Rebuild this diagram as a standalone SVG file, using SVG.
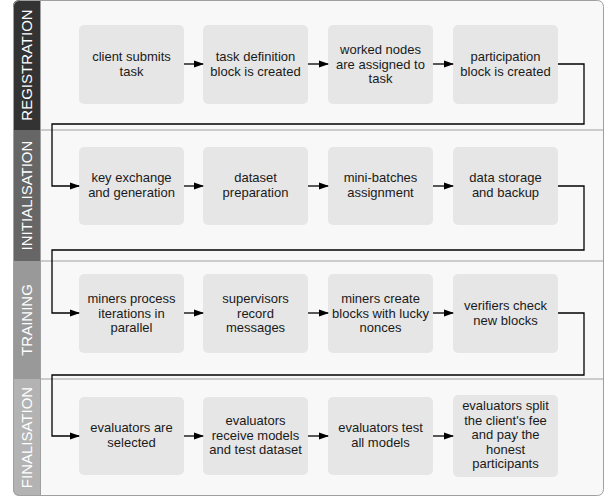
<svg xmlns="http://www.w3.org/2000/svg" width="614" height="500" viewBox="0 0 614 500">
<style>
.lane{fill:#f8f8f8;stroke:none}
.div{stroke:#a0a0a0;stroke-width:1;fill:none}
.hd{fill:#fff;font-family:"Liberation Sans",Arial,sans-serif;font-size:15px;text-anchor:middle}
.node rect{fill:#e6e6e6;stroke:none}
.node text{fill:#1a1a1a;font-family:"Liberation Sans",Arial,sans-serif;font-size:13px;text-anchor:middle}
.conn{stroke:#000;stroke-width:1.3;fill:none}
</style>
<defs>
<marker id="ah" markerWidth="10" markerHeight="8" refX="9" refY="4" orient="auto" markerUnits="userSpaceOnUse">
<path d="M0,0.5 L10,4 L0,7.5 Z" fill="#000"/>
</marker>
<clipPath id="frame"><rect x="13" y="0" width="591" height="496" rx="6"/></clipPath>
</defs>
<g id="lanes" clip-path="url(#frame)">
<rect class="lane" x="13" y="0" width="591" height="496"/>
<rect x="13" y="0" width="27" height="130" fill="#333333"/>
<rect x="13" y="130" width="27" height="131" fill="#666666"/>
<rect x="13" y="261" width="27" height="118" fill="#999999"/>
<rect x="13" y="379" width="27" height="117" fill="#b3b3b3"/>
<line class="div" x1="40" y1="130" x2="604" y2="130"/>
<line class="div" x1="40" y1="261" x2="604" y2="261"/>
<line class="div" x1="40" y1="379" x2="604" y2="379"/>
<line x1="40.5" y1="0" x2="40.5" y2="496" stroke="#a0a0a0" stroke-width="1"/>
</g>
<rect x="13.5" y="0.5" width="590" height="495" rx="6" fill="none" stroke="#a0a0a0" stroke-width="1"/>
<g id="headers">
<text class="hd" transform="translate(32,65) rotate(-90)">REGISTRATION</text>
<text class="hd" transform="translate(32,195.5) rotate(-90)">INITIALISATION</text>
<text class="hd" transform="translate(32,320) rotate(-90)">TRAINING</text>
<text class="hd" transform="translate(32,437.5) rotate(-90)">FINALISATION</text>
</g>
<g id="n1" class="node"><rect x="79" y="25" width="105" height="79" rx="5"/><text x="131.5" y="61">client submits</text><text x="131.5" y="75.5">task</text></g>
<g id="n2" class="node"><rect x="203" y="25" width="105" height="79" rx="5"/><text x="255.5" y="61">task definition</text><text x="255.5" y="75.5">block is created</text></g>
<g id="n3" class="node"><rect x="328" y="25" width="105" height="79" rx="5"/><text x="380.5" y="54">worked nodes</text><text x="380.5" y="68.5">are assigned to</text><text x="380.5" y="83">task</text></g>
<g id="n4" class="node"><rect x="453" y="25" width="105" height="79" rx="5"/><text x="505.5" y="61">participation</text><text x="505.5" y="75.5">block is created</text></g>
<g id="n5" class="node"><rect x="79" y="147" width="105" height="78" rx="5"/><text x="131.5" y="182">key exchange</text><text x="131.5" y="196.5">and generation</text></g>
<g id="n6" class="node"><rect x="203" y="147" width="105" height="78" rx="5"/><text x="255.5" y="182">dataset</text><text x="255.5" y="196.5">preparation</text></g>
<g id="n7" class="node"><rect x="328" y="147" width="105" height="78" rx="5"/><text x="380.5" y="182">mini-batches</text><text x="380.5" y="196.5">assignment</text></g>
<g id="n8" class="node"><rect x="453" y="147" width="105" height="78" rx="5"/><text x="505.5" y="182">data storage</text><text x="505.5" y="196.5">and backup</text></g>
<g id="n9" class="node"><rect x="79" y="274" width="105" height="79" rx="5"/><text x="131.5" y="303">miners process</text><text x="131.5" y="317.5">iterations in</text><text x="131.5" y="332">parallel</text></g>
<g id="n10" class="node"><rect x="203" y="274" width="105" height="79" rx="5"/><text x="255.5" y="303">supervisors</text><text x="255.5" y="317.5">record</text><text x="255.5" y="332">messages</text></g>
<g id="n11" class="node"><rect x="328" y="274" width="105" height="79" rx="5"/><text x="380.5" y="303">miners create</text><text x="380.5" y="317.5">blocks with lucky</text><text x="380.5" y="332">nonces</text></g>
<g id="n12" class="node"><rect x="453" y="274" width="105" height="79" rx="5"/><text x="505.5" y="310">verifiers check</text><text x="505.5" y="324.5">new blocks</text></g>
<g id="n13" class="node"><rect x="79" y="397" width="105" height="78" rx="5"/><text x="131.5" y="432">evaluators are</text><text x="131.5" y="446.5">selected</text></g>
<g id="n14" class="node"><rect x="203" y="397" width="105" height="78" rx="5"/><text x="255.5" y="425">evaluators</text><text x="255.5" y="439.5">receive models</text><text x="255.5" y="454">and test dataset</text></g>
<g id="n15" class="node"><rect x="328" y="397" width="105" height="78" rx="5"/><text x="380.5" y="432">evaluators test</text><text x="380.5" y="446.5">all models</text></g>
<g id="n16" class="node"><rect x="453" y="395" width="105" height="82" rx="5"/><text x="505.5" y="410">evaluators split</text><text x="505.5" y="424.5">the client's fee</text><text x="505.5" y="439">and pay the</text><text x="505.5" y="453.5">honest</text><text x="505.5" y="468">participants</text></g>
<g id="connectors">
<path class="conn" d="M184,64 L203,64" marker-end="url(#ah)"/>
<path class="conn" d="M308,64 L328,64" marker-end="url(#ah)"/>
<path class="conn" d="M433,64 L453,64" marker-end="url(#ah)"/>
<path class="conn" d="M558,64 L584,64 L584,124 L52,124 L52,186 L79,186" marker-end="url(#ah)"/>
<path class="conn" d="M184,186 L203,186" marker-end="url(#ah)"/>
<path class="conn" d="M308,186 L328,186" marker-end="url(#ah)"/>
<path class="conn" d="M433,186 L453,186" marker-end="url(#ah)"/>
<path class="conn" d="M558,186 L584,186 L584,250 L52,250 L52,313 L79,313" marker-end="url(#ah)"/>
<path class="conn" d="M184,313 L203,313" marker-end="url(#ah)"/>
<path class="conn" d="M308,313 L328,313" marker-end="url(#ah)"/>
<path class="conn" d="M433,313 L453,313" marker-end="url(#ah)"/>
<path class="conn" d="M558,313 L584,313 L584,375 L52,375 L52,436 L79,436" marker-end="url(#ah)"/>
<path class="conn" d="M184,436 L203,436" marker-end="url(#ah)"/>
<path class="conn" d="M308,436 L328,436" marker-end="url(#ah)"/>
<path class="conn" d="M433,436 L453,436" marker-end="url(#ah)"/>
</g>
</svg>
